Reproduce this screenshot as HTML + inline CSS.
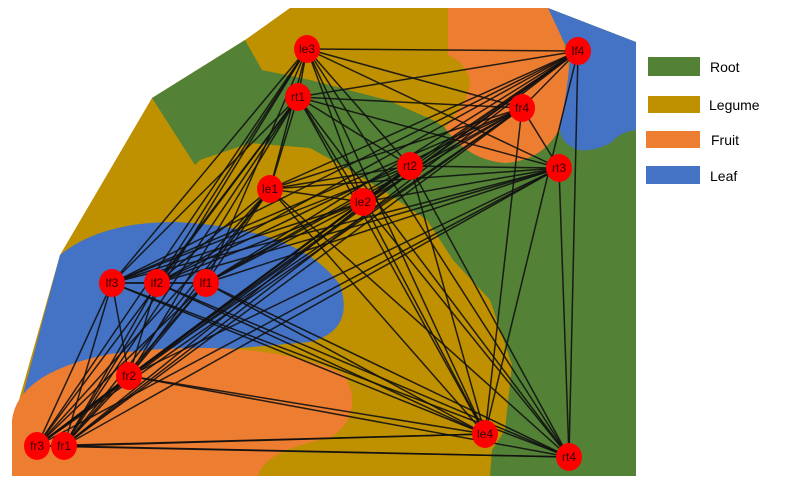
<!DOCTYPE html>
<html><head><meta charset="utf-8"><style>
html,body{margin:0;padding:0;background:#fff;width:800px;height:494px;overflow:hidden}
svg{display:block}
text{font-family:"Liberation Sans",sans-serif}
</style></head><body>
<svg id="s" width="800" height="494" viewBox="0 0 800 494" xmlns="http://www.w3.org/2000/svg">
<path d="M152,98 L245,40 L290,8 L548,8 L636,42 L636,476 L12,476 L12,425 L60,255 Z" fill="#BF9000"/>
<path d="M152,98 L245,40 L262,70 L310,80 L387,100 L433,120 L462,138 L560,132 L636,130 L636,476 L490,476 L492,450 L505,430 L512,365 L490,300 L453,260 L427,220 L387,193 L350,170 L310,148 L250,143 L200,160 L195,165 Z" fill="#538135"/>
<path d="M448,8 L548,8 Q578,60 566,112 Q552,160 505,163 Q468,160 445,128 Q470,100 470,80 Q465,62 448,55 Z" fill="#ED7D31"/>
<path d="M548,8 L636,42 L636,130 Q620,132 612,142 Q595,152 578,150 Q558,142 560,125 Q568,90 570,55 Z" fill="#4472C4"/>
<path d="M60,255 Q100,222 175,222 Q300,228 340,285 Q355,330 310,342 L100,360 L15,425 Z" fill="#4472C4"/>
<path d="M12,476 L12,420 Q18,372 110,354 Q260,335 345,375 Q365,415 330,438 Q265,450 258,476 Z" fill="#ED7D31"/>
<g id="edges" stroke="#111" stroke-width="1.5" stroke-opacity="0.9"></g>
<g id="nodes"></g>
<rect x="648" y="57" width="52" height="19" fill="#538135"/>
<rect x="648" y="96" width="52" height="17" fill="#BF9000"/>
<rect x="646" y="131" width="54" height="17" fill="#ED7D31"/>
<rect x="646" y="166" width="54" height="18" fill="#4472C4"/>
<text x="710" y="72" font-size="14">Root</text>
<text x="709" y="110" font-size="14">Legume</text>
<text x="711" y="145" font-size="14">Fruit</text>
<text x="710" y="181" font-size="14">Leaf</text>
</svg>
<script>
var N=[["le3",307,49],["lf4",578,51],["rt1",298,97],["fr4",522,108],["rt2",410,166],["rt3",559,168],["le1",270,189],["le2",363,202],["lf3",112,283],["lf2",157,283],["lf1",206,283],["fr2",129,376],["fr3",37,446],["fr1",64,446],["le4",485,434],["rt4",569,457]];
var ns="http://www.w3.org/2000/svg",E=document.getElementById("edges"),G=document.getElementById("nodes");
for(var i=0;i<N.length;i++)for(var j=i+1;j<N.length;j++){
 if((i*7+j*3)%11==0)continue;
 var l=document.createElementNS(ns,"line");
 l.setAttribute("x1",N[i][1]);l.setAttribute("y1",N[i][2]);l.setAttribute("x2",N[j][1]);l.setAttribute("y2",N[j][2]);E.appendChild(l);}
N.forEach(function(n){
 var c=document.createElementNS(ns,"ellipse");c.setAttribute("cx",n[1]);c.setAttribute("cy",n[2]);c.setAttribute("rx",13);c.setAttribute("ry",14);c.setAttribute("fill","#f00");G.appendChild(c);
 var t=document.createElementNS(ns,"text");t.setAttribute("x",n[1]);t.setAttribute("y",n[2]+4);t.setAttribute("font-size","12");t.setAttribute("text-anchor","middle");t.setAttribute("fill","#300");t.textContent=n[0];G.appendChild(t);});
</script>
</body></html>
